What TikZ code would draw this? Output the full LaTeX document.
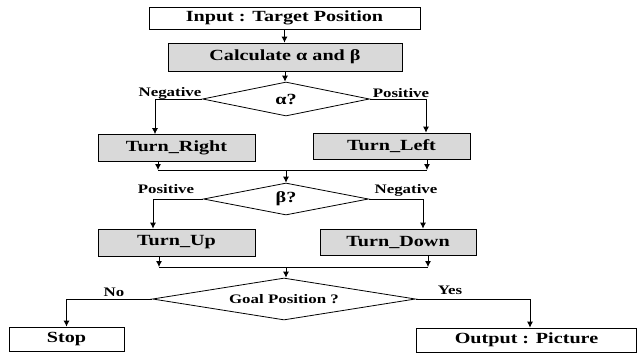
\documentclass[tikz,border=0pt]{standalone}
\usepackage{fontspec}
\setmainfont{Liberation Serif}[FakeStretch=1.3]
\usetikzlibrary{arrows.meta,shapes.geometric}
\definecolor{boxgray}{HTML}{D9D9D9}
\begin{document}
\begin{tikzpicture}[x=1pt,y=-1pt,
  box/.style={rectangle, draw=black, line width=0.8pt, fill=white, inner sep=0pt,
    font=\fontsize{15.5}{15.5}\selectfont\bfseries},
  graybox/.style={box, fill=boxgray},
  decision/.style={diamond, draw=black, line width=0.8pt, inner sep=0pt, aspect=6},
  flow/.style={draw=black, line width=0.8pt, -{Latex[length=6pt,width=6pt]}},
  joinline/.style={draw=black, line width=0.8pt},
  lbl/.style={inner sep=0pt, font=\fontsize{13}{13}\selectfont\bfseries}
]
\useasboundingbox (0,0) rectangle (638,354);

% boxes and decisions
\node[box, minimum width=271pt, minimum height=22pt] (in) at (284.5,18) {Input : Target Position};
\node[graybox, minimum width=234pt, minimum height=28pt] (calc) at (285,57) {Calculate α and β};
\node[decision, minimum width=167pt, minimum height=34pt,
      font=\fontsize{15.5}{15.5}\selectfont\bfseries] (dA) at (286,99) {α?};
\node[graybox, minimum width=157pt, minimum height=27pt] (tr) at (176.5,148) {Turn\_Right};
\node[graybox, minimum width=157pt, minimum height=26pt] (tl) at (391.5,146) {Turn\_Left};
\node[decision, minimum width=165pt, minimum height=32pt,
      font=\fontsize{15.5}{15.5}\selectfont\bfseries] (dB) at (286,199) {β?};
\node[graybox, minimum width=157pt, minimum height=27pt] (tu) at (176.5,242.5) {Turn\_Up};
\node[graybox, minimum width=156pt, minimum height=26pt] (td) at (398,242) {Turn\_Down};
\node[decision, minimum width=263pt, minimum height=42pt,
      font=\fontsize{13}{13}\selectfont\bfseries] (dG) at (284,299) {Goal Position ?};
\node[box, minimum width=115pt, minimum height=24pt] (stop) at (66.5,339) {Stop};
\node[box, minimum width=220pt, minimum height=24pt] (out) at (526.5,340) {Output : Picture};

% branch labels
\node[lbl] (aneg) at (170,93) {Negative};
\node[lbl] (apos) at (401,93) {Positive};
\node[lbl] (bpos) at (166,189) {Positive};
\node[lbl] (bneg) at (406,190) {Negative};
\node[lbl] (gno) at (114,292) {No};
\node[lbl] (gyes) at (450,290) {Yes};

% merge points
\coordinate (j1a) at (158,170);
\coordinate (j1b) at (427,170);
\coordinate (j1c) at (286,170);
\coordinate (j2a) at (159,267);
\coordinate (j2b) at (428,267);
\coordinate (j2c) at (286,267);

% connectors
\draw[flow] (in.south) -- (in.south |- calc.north);
\draw[flow] (calc.south) -- (calc.south |- dA.north);
\draw[flow] (dA.west) -| ([xshift=-21.5pt]tr.north);
\draw[flow] (dA.east) -| ([xshift=34.5pt]tl.north);
\draw[flow] (tr.south -| j1a) -- (j1a);
\draw[flow] (tl.south -| j1b) -- (j1b);
\draw[joinline] (j1a) -- (j1b);
\draw[flow] (j1c) -- (dB.north);
\draw[flow] (dB.west) -| ([xshift=-23.5pt]tu.north);
\draw[flow] (dB.east) -| ([xshift=25pt]td.north);
\draw[flow] (tu.south -| j2a) -- (j2a);
\draw[flow] (td.south -| j2b) -- (j2b);
\draw[joinline] (j2a) -- (j2b);
\draw[flow] (j2c) -- (j2c |- dG.north);
\draw[flow] (dG.west) -| (stop.north);
\draw[flow] (dG.east) -| ([xshift=3.5pt]out.north);
\end{tikzpicture}
\end{document}
